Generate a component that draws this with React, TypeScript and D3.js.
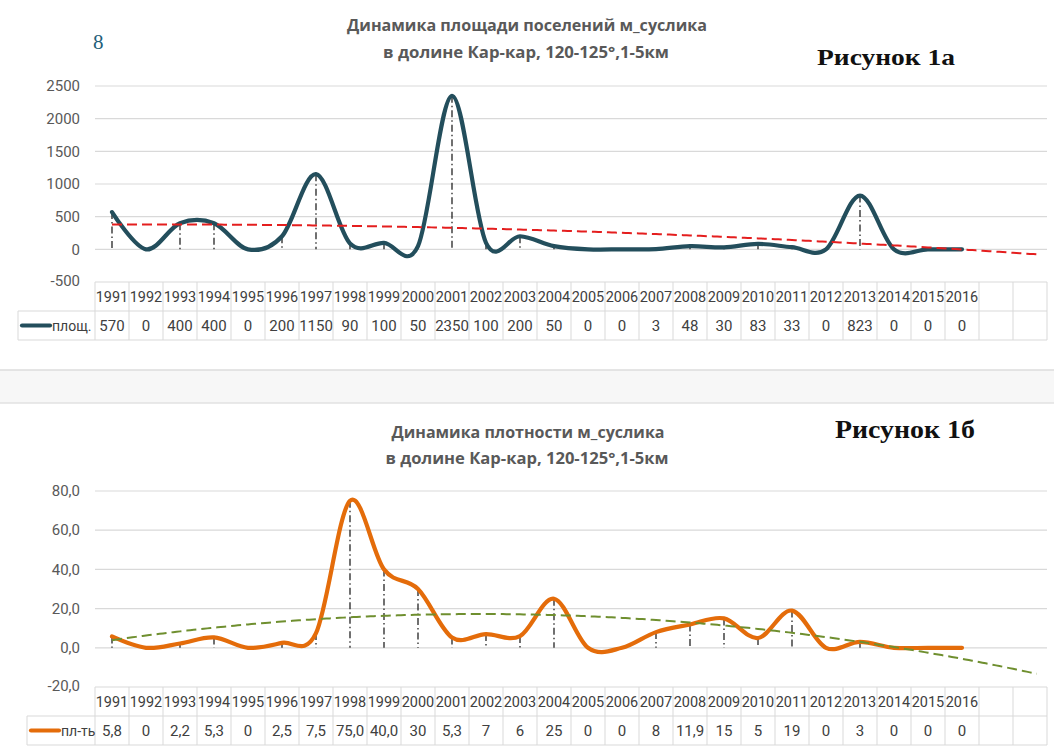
import React from 'react';
import * as d3 from 'd3';

const years = ['1991','1992','1993','1994','1995','1996','1997','1998','1999','2000','2001','2002','2003','2004','2005','2006','2007','2008','2009','2010','2011','2012','2013','2014','2015','2016'];
const blankCats = ['_b1', '_b2'];

const areaValues = [570, 0, 400, 400, 0, 200, 1150, 90, 100, 50, 2350, 100, 200, 50, 0, 0, 3, 48, 30, 83, 33, 0, 823, 0, 0, 0];
const areaLabels = ['570','0','400','400','0','200','1150','90','100','50','2350','100','200','50','0','0','3','48','30','83','33','0','823','0','0','0'];
const areaTicks = [-500, 0, 500, 1000, 1500, 2000, 2500];

const densityValues = [5.8, 0, 2.2, 5.3, 0, 2.5, 7.5, 75.0, 40.0, 30, 5.3, 7, 6, 25, 0, 0, 8, 11.9, 15, 5, 19, 0, 3, 0, 0, 0];
const densityLabels = ['5,8','0','2,2','5,3','0','2,5','7,5','75,0','40,0','30','5,3','7','6','25','0','0','8','11,9','15','5','19','0','3','0','0','0'];
const densityTicks = [-20, 0, 20, 40, 60, 80];

function polyfit2(xs: number[], ys: number[]) {
  const S = [0, 0, 0, 0, 0];
  const T = [0, 0, 0];
  xs.forEach((x, i) => {
    for (let k = 0; k < 5; k++) S[k] += Math.pow(x, k);
    for (let k = 0; k < 3; k++) T[k] += Math.pow(x, k) * ys[i];
  });
  const M = [
    [S[0], S[1], S[2], T[0]],
    [S[1], S[2], S[3], T[1]],
    [S[2], S[3], S[4], T[2]],
  ];
  for (let i = 0; i < 3; i++) {
    let p = i;
    for (let r = i + 1; r < 3; r++) if (Math.abs(M[r][i]) > Math.abs(M[p][i])) p = r;
    [M[i], M[p]] = [M[p], M[i]];
    for (let r = 0; r < 3; r++) {
      if (r === i) continue;
      const f = M[r][i] / M[i][i];
      for (let c = i; c < 4; c++) M[r][c] -= f * M[i][c];
    }
  }
  const a = M[0][3] / M[0][0], b = M[1][3] / M[1][1], c = M[2][3] / M[2][2];
  return (x: number) => a + b * x + c * x * x;
}

type ChartProps = {
  values: number[];
  labels: string[];
  ticks: number[];
  tickFmt: (v: number) => string;
  yTop: number;
  yBottom: number;
  tableLeft: number;
  legendText: string;
  lineColor: string;
  trendColor: string;
  trendDash: string;
};

const FONT = 'Roboto, "Open Sans", sans-serif';

function Chart(p: ChartProps) {
  const x = d3.scaleBand<string>().domain([...years, ...blankCats]).range([95, 1047]).paddingInner(0).paddingOuter(0);
  const bw = x.bandwidth();
  const cx = (i: number) => (x(years[i]) as number) + bw / 2;
  const y = d3.scaleLinear().domain([p.ticks[0], p.ticks[p.ticks.length - 1]]).range([p.yBottom, p.yTop]);
  const pts: [number, number][] = p.values.map((v, i) => [cx(i), y(v)]);
  const line = d3.line().curve(d3.curveCardinal.tension(0));

  const idx = p.values.map((_, i) => i + 1);
  const fit = polyfit2(idx, p.values);
  const forward = 2.2;
  const trendPts: [number, number][] = d3.range(1, p.values.length + forward + 0.001, 0.1).map((t) => [cx(0) + (t - 1) * bw, y(fit(t))]);
  const trendLine = d3.line();

  const tableTop = p.yBottom;
  const rowH = 29;
  const r1 = tableTop + rowH;
  const r2 = r1 + rowH;
  const cats = [...years, ...blankCats];
  const gridColor = '#d9d9d9';
  const textColor = '#404040';

  return (
    <g>
      {p.ticks.map((t) => (
        <g key={t}>
          {t !== p.ticks[0] && <line x1={95} x2={1047} y1={y(t)} y2={y(t)} stroke={gridColor} strokeWidth={1.2} />}
          <text x={80} y={y(t)} dy={t === p.ticks[0] ? '0.25em' : '0.35em'} textAnchor="end" fontSize={15} fill="#595959" fontFamily={FONT}>{p.tickFmt(t)}</text>
        </g>
      ))}
      {pts.map(([px, py], i) => (
        <line key={'d' + i} x1={px} x2={px} y1={py} y2={y(0)} stroke="#111" strokeWidth={1.2} strokeDasharray="7,3,1.5,3" />
      ))}
      <path d={line(pts) || ''} fill="none" stroke={p.lineColor} strokeWidth={4.2} strokeLinejoin="round" strokeLinecap="round" />
      <path d={trendLine(trendPts) || ''} fill="none" stroke={p.trendColor} strokeWidth={2} strokeDasharray={p.trendDash} />
      <g fontFamily={FONT}>
        <line x1={95} x2={1047} y1={tableTop} y2={tableTop} stroke={gridColor} />
        <line x1={p.tableLeft} x2={1047} y1={r1} y2={r1} stroke={gridColor} />
        <line x1={p.tableLeft} x2={1047} y1={r2} y2={r2} stroke={gridColor} />
        <line x1={p.tableLeft} x2={p.tableLeft} y1={r1} y2={r2} stroke={gridColor} />
        {cats.map((c) => (
          <line key={'v' + c} x1={x(c) as number} x2={x(c) as number} y1={tableTop} y2={r2} stroke={gridColor} />
        ))}
        <line x1={1047} x2={1047} y1={tableTop} y2={r2} stroke={gridColor} />
        {years.map((yr, i) => (
          <text key={'y' + yr} x={cx(i)} y={tableTop + 20} textAnchor="middle" fontSize={14} fill={textColor} textLength={bw - 1.5} lengthAdjust="spacingAndGlyphs">{yr}</text>
        ))}
        {p.labels.map((l, i) => (
          <text key={'l' + i} x={cx(i)} y={r1 + 20} textAnchor="middle" fontSize={15} fill={textColor}>{l}</text>
        ))}
        <line x1={p.tableLeft + 4} x2={p.tableLeft + 32} y1={r1 + rowH / 2} y2={r1 + rowH / 2} stroke={p.lineColor} strokeWidth={4.2} strokeLinecap="round" />
        <text x={p.tableLeft + 34} y={r1 + 20} fontSize={14} fill={textColor}>{p.legendText}</text>
      </g>
    </g>
  );
}

export default function App() {
  const fmtInt = (v: number) => String(v);
  const fmt1 = (v: number) => d3.format('.1f')(v).replace('.', ',').replace('−', '-');
  return (
    <svg width={1054} height={751} viewBox="0 0 1054 751" style={{ position: 'absolute', left: 0, top: 0, background: '#fff' }}>
      <rect x={0} y={0} width={1054} height={751} fill="#fff" />
      <text x={93} y={49} fontSize={21} fill="#1f5f7a" fontFamily='"Liberation Serif", serif'>8</text>
      <text x={527} y={31} textAnchor="middle" fontSize={16} fontWeight="bold" fill="#595959" fontFamily='"Open Sans", sans-serif' textLength={360} lengthAdjust="spacingAndGlyphs">Динамика площади поселений м_суслика</text>
      <text x={526} y={58} textAnchor="middle" fontSize={16} fontWeight="bold" fill="#595959" fontFamily='"Open Sans", sans-serif' textLength={286} lengthAdjust="spacingAndGlyphs">в долине Кар-кар, 120-125°,1-5км</text>
      <text x={817} y={65} fontSize={24} fontWeight="bold" fill="#111" fontFamily='"Liberation Serif", "DejaVu Serif", serif' textLength={138} lengthAdjust="spacingAndGlyphs">Рисунок 1а</text>

      <Chart values={areaValues} labels={areaLabels} ticks={areaTicks} tickFmt={fmtInt} yTop={86} yBottom={282} tableLeft={18}
        legendText="площ." lineColor="#234e5c" trendColor="#e41e1e" trendDash="10,5" />

      <rect x={0} y={370} width={1054} height={33} fill="#f7f7f7" />
      <line x1={0} x2={1054} y1={370} y2={370} stroke="#dcdcdc" strokeWidth={1.5} />
      <line x1={0} x2={1054} y1={403} y2={403} stroke="#e2e2e2" strokeWidth={1.5} />

      <text x={528} y={438} textAnchor="middle" fontSize={16} fontWeight="bold" fill="#595959" fontFamily='"Open Sans", sans-serif' textLength={273} lengthAdjust="spacingAndGlyphs">Динамика плотности м_суслика</text>
      <text x={527} y={464} textAnchor="middle" fontSize={16} fontWeight="bold" fill="#595959" fontFamily='"Open Sans", sans-serif' textLength={283} lengthAdjust="spacingAndGlyphs">в долине Кар-кар, 120-125°,1-5км</text>
      <text x={835} y={438} fontSize={25} fontWeight="bold" fill="#111" fontFamily='"Liberation Serif", "DejaVu Serif", serif' textLength={140} lengthAdjust="spacingAndGlyphs">Рисунок 1б</text>

      <Chart values={densityValues} labels={densityLabels} ticks={densityTicks} tickFmt={fmt1} yTop={491} yBottom={687} tableLeft={27}
        legendText="пл-ть" lineColor="#e46c0a" trendColor="#6f8f2f" trendDash="10,5" />
    </svg>
  );
}
